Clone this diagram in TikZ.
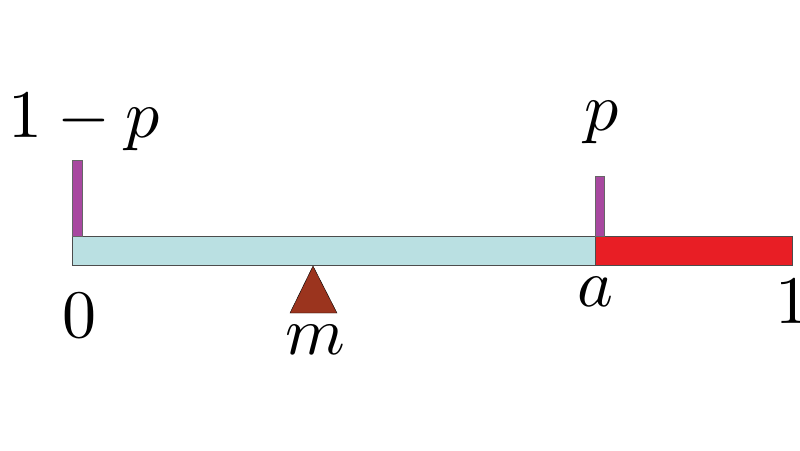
\documentclass[tikz,border=0pt]{standalone}
\begin{document}
\begin{tikzpicture}[x=1pt,y=-1pt,
  lbl/.style={inner sep=0pt}]
\useasboundingbox (0,0) rectangle (800,450);
\definecolor{lb}{RGB}{186,224,226}
\definecolor{rd}{RGB}{232,30,37}
\definecolor{br}{RGB}{155,52,30}
\definecolor{mg}{RGB}{168,72,160}
\node[draw=black!70,fill=lb,minimum width=523pt,minimum height=29pt,inner sep=0pt,anchor=north west] (bar) at (72,236) {};
\node[draw=black!70,fill=rd,minimum width=197pt,minimum height=29pt,inner sep=0pt,anchor=north west] (red) at (595,236) {};
\node[fill=mg,draw=black!60,minimum width=10pt,minimum height=76pt,inner sep=0pt,anchor=south west] (t1) at (72,236) {};
\node[fill=mg,draw=black!60,minimum width=9pt,minimum height=60pt,inner sep=0pt,anchor=south west] (t2) at (595,236) {};
\draw[fill=br] (313,266) -- (337,313) -- (290,313) -- cycle;
\node[lbl] (l1) at (84,122) {\scalebox{6.8}{$1-p$}};
\node[lbl] (l2) at (602,122) {\scalebox{6.8}{$p$}};
\node[lbl] (l0) at (79,316) {\scalebox{6.8}{$0$}};
\node[lbl] (la) at (595,292) {\scalebox{6.8}{$a$}};
\node[lbl] (lone) at (792,302) {\scalebox{6.8}{$1$}};
\node[lbl] (lm) at (315,340) {\scalebox{6.8}{$m$}};
\end{tikzpicture}
\end{document}
